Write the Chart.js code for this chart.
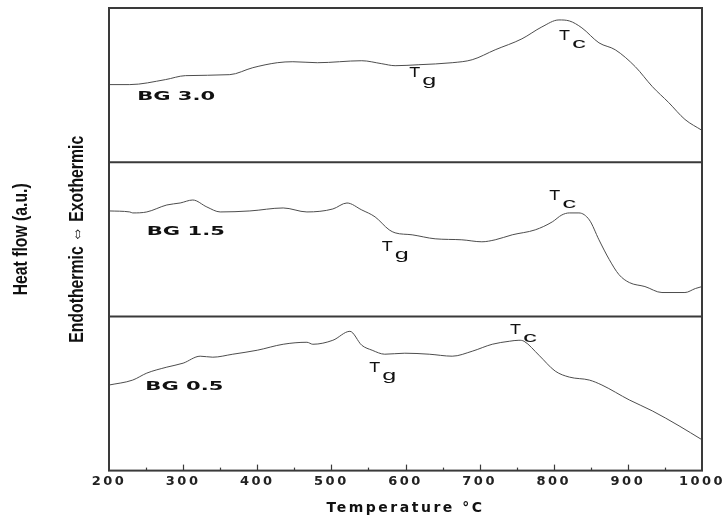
<!DOCTYPE html>
<html>
<head>
<meta charset="utf-8">
<script src="https://cdn.jsdelivr.net/npm/chart.js@4.4.0/dist/chart.umd.min.js"></script>
<style>
    html, body { margin: 0; padding: 0; background: #fff; }
    canvas { display: block; }
</style>
</head>
<body>
<canvas id="chart" width="724" height="518"></canvas>
<script>
// series names, top panel first
const seriesNames = ['BG 3.0', 'BG 1.5', 'BG 0.5'];

// BG 3.0 (top panel)
const bg30Temp = [200, 228, 276, 303, 363, 394, 427, 448, 481, 541, 568, 586, 618, 663, 690, 721, 757, 784, 807, 821, 838, 861, 883, 910, 933, 955, 977, 1000];
const bg30Flow = [78, 78, 83, 87, 88, 95, 100, 101, 100, 102, 99, 97, 98, 100, 103, 113, 124, 136, 143, 142, 135, 120, 113, 96, 76, 60, 43, 32];

// BG 1.5 (middle panel)
const bg15Temp = [200, 228, 232, 251, 278, 296, 313, 332, 350, 390, 435, 467, 502, 521, 541, 559, 578, 586, 609, 640, 676, 703, 721, 744, 775, 798, 811, 821, 834, 848, 861, 875, 888, 902, 923, 946, 977, 991, 1000];
const bg15Flow = [106, 105, 104, 105, 112, 114, 117, 110, 105, 106, 109, 105, 108, 114, 107, 100, 87, 84, 82, 78, 77, 75, 77, 82, 87, 95, 102, 104, 104, 97, 77, 57, 42, 34, 30, 24, 24, 28, 30];

// BG 0.5 (bottom panel)
const bg05Temp = [200, 232, 251, 278, 300, 323, 340, 367, 400, 435, 467, 475, 502, 525, 541, 555, 572, 599, 632, 663, 690, 717, 740, 753, 760, 780, 802, 821, 848, 865, 902, 933, 969, 1000];
const bg05Flow = [86, 91, 98, 104, 108, 115, 114, 117, 121, 127, 129, 127, 131, 140, 126, 121, 117, 118, 117, 115, 120, 127, 130, 131, 130, 116, 100, 94, 91, 86, 71, 60, 45, 31];

// Tg / Tc markers: [panel axis, temperature, heat flow, subscript]
const markers = [
    ['yTop', 605, 90, 'g'], ['yTop', 807, 127, 'c'],
    ['yMid', 568, 70, 'g'], ['yMid', 794, 121, 'c'],
    ['yBottom', 551, 103, 'g'], ['yBottom', 741, 141, 'c']
];
// where the sample names sit: [panel axis, temperature, heat flow]
const nameSpots = [['yTop', 238, 66], ['yMid', 251, 85], ['yBottom', 249, 84]];

function toPoints(temps, flows) {
    return temps.map((t, i) => ({ x: t, y: flows[i] }));
}

// draw text squeezed or stretched to a given width
function fitText(ctx, text, x, y, width, align) {
    const w = ctx.measureText(text).width;
    ctx.save();
    ctx.translate(x, y);
    ctx.scale(width / w, 1);
    ctx.textAlign = align;
    ctx.fillText(text, 0, 0);
    ctx.restore();
}

const framePlugin = {
    id: 'frame',
    beforeDraw(chart) {
        chart.ctx.letterSpacing = '2.5px';
    },
    afterDraw(chart) {
        const ctx = chart.ctx;
        const area = chart.chartArea;
        const x = chart.scales.x;
        ctx.save();
        ctx.letterSpacing = '0px';
        ctx.strokeStyle = '#3a3a3a';
        ctx.lineWidth = 2;
        ctx.strokeRect(area.left, area.top, area.right - area.left, area.bottom - area.top);
        ['yTop', 'yMid'].forEach(id => {
            const yb = chart.scales[id].bottom;
            ctx.beginPath();
            ctx.moveTo(area.left, yb);
            ctx.lineTo(area.right, yb);
            ctx.stroke();
        });
        // inward ticks on the temperature axis
        ctx.lineWidth = 1.2;
        for (let t = 250; t < 1000; t += 50) {
            const px = Math.round(x.getPixelForValue(t)) + 0.5;
            const len = t % 100 === 0 ? 6 : 3;
            ctx.beginPath();
            ctx.moveTo(px, area.bottom);
            ctx.lineTo(px, area.bottom - len);
            ctx.stroke();
        }

        ctx.fillStyle = '#111';
        ctx.textBaseline = 'middle';
        ctx.font = 'bold 13px "DejaVu Sans"';
        nameSpots.forEach((s, i) => {
            const sy = chart.scales[s[0]];
            fitText(ctx, seriesNames[i], x.getPixelForValue(s[1]), sy.getPixelForValue(s[2]), 78, 'left');
        });

        markers.forEach(m => {
            const sy = chart.scales[m[0]];
            const px = x.getPixelForValue(m[1]);
            const py = sy.getPixelForValue(m[2]);
            ctx.font = '15px "Liberation Sans"';
            fitText(ctx, 'T', px, py, 11, 'left');
            ctx.font = '14px "Liberation Sans"';
            fitText(ctx, m[3], px + 13, py + 8, 14, 'left');
        });

        // rotated y titles
        const midY = (area.top + area.bottom) / 2;
        ctx.font = 'bold 21px "Liberation Sans Narrow", "Liberation Sans"';
        ctx.save();
        ctx.translate(area.left - 88, midY);
        ctx.rotate(-Math.PI / 2);
        fitText(ctx, 'Heat flow (a.u.)', 0, 0, 112, 'center');
        ctx.restore();
        ctx.save();
        ctx.translate(area.left - 32, midY);
        ctx.rotate(-Math.PI / 2);
        fitText(ctx, 'Endothermic \u21D4 Exothermic', 0, 0, 207, 'center');
        ctx.restore();
        ctx.restore();
    }
};

function panelAxis() {
    return {
        display: false,
        min: 0,
        max: 155,
        position: 'left',
        stack: 'panels',
        stackWeight: 1
    };
}

const lineStyle = {
    borderColor: '#4d4d4d',
    borderWidth: 1,
    pointRadius: 0,
    fill: false,
    cubicInterpolationMode: 'monotone'
};

const ctx = document.getElementById('chart').getContext('2d');
const chart = new Chart(ctx, {
    type: 'line',
    data: {
        datasets: [
            { ...lineStyle, label: seriesNames[0], data: toPoints(bg30Temp, bg30Flow), yAxisID: 'yTop' },
            { ...lineStyle, label: seriesNames[1], data: toPoints(bg15Temp, bg15Flow), yAxisID: 'yMid' },
            { ...lineStyle, label: seriesNames[2], data: toPoints(bg05Temp, bg05Flow), yAxisID: 'yBottom' }
        ]
    },
    options: {
        responsive: false,
        animation: false,
        layout: { padding: { left: 109, right: 22, top: 8, bottom: 0 } },
        plugins: {
            legend: { display: false },
            tooltip: { enabled: false }
        },
        scales: {
            x: {
                type: 'linear',
                min: 200,
                max: 1000,
                position: 'bottom',
                grid: { display: false, drawTicks: false },
                border: { display: false },
                ticks: {
                    stepSize: 100,
                    maxRotation: 0,
                    padding: 3,
                    color: '#222',
                    font: { family: 'DejaVu Sans', weight: 'bold', size: 13 },
                    callback: v => String(v)
                },
                title: {
                    display: true,
                    text: 'Temperature °C',
                    color: '#111',
                    padding: { top: 8, bottom: 1 },
                    font: { family: 'DejaVu Sans', weight: 'bold', size: 14 }
                }
            },
            yBottom: panelAxis(),
            yMid: panelAxis(),
            yTop: panelAxis()
        }
    },
    plugins: [framePlugin]
});
</script>
</body>
</html>
